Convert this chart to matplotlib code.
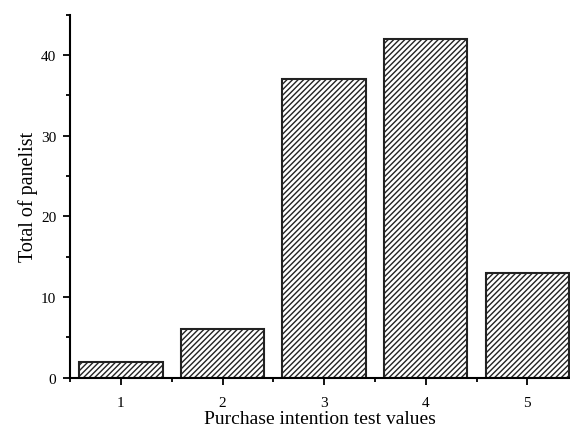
import matplotlib
matplotlib.use('Agg')
import matplotlib.pyplot as plt
from matplotlib.ticker import MultipleLocator

# purchase intention scores and panelist counts
scores = [1, 2, 3, 4, 5]
panelists = [2, 6, 37, 42, 13]

plt.rcParams['font.family'] = ['Liberation Serif', 'DejaVu Serif']
plt.rcParams['hatch.linewidth'] = 1.0

fig = plt.figure(figsize=(5.7, 4.27), dpi=100)
ax = fig.add_axes([0.123, 0.113, 0.877, 0.85])

ax.bar(scores, panelists, width=0.82, color='white', edgecolor='#222222',
       linewidth=1.5, hatch='//////')

ax.set_xlim(0.5, 5.42)
ax.set_ylim(0, 45)
ax.spines['top'].set_visible(False)
ax.spines['right'].set_visible(False)
ax.spines['left'].set_linewidth(1.5)
ax.spines['bottom'].set_linewidth(1.5)

ax.set_xticks(scores)
ax.xaxis.set_minor_locator(MultipleLocator(1, offset=0.5))
ax.yaxis.set_major_locator(MultipleLocator(10))
ax.yaxis.set_minor_locator(MultipleLocator(5))
ax.tick_params(which='major', length=5, width=1.3, labelsize=11)
ax.tick_params(axis='x', which='major', pad=8)
ax.tick_params(axis='y', which='major', pad=5)
ax.tick_params(which='minor', length=3, width=1.3)

ax.set_xlabel('Purchase intention test values', fontsize=14, labelpad=1)
ax.set_ylabel('Total of panelist', fontsize=14.5, labelpad=2)

fig.savefig('out.png', dpi=100)
